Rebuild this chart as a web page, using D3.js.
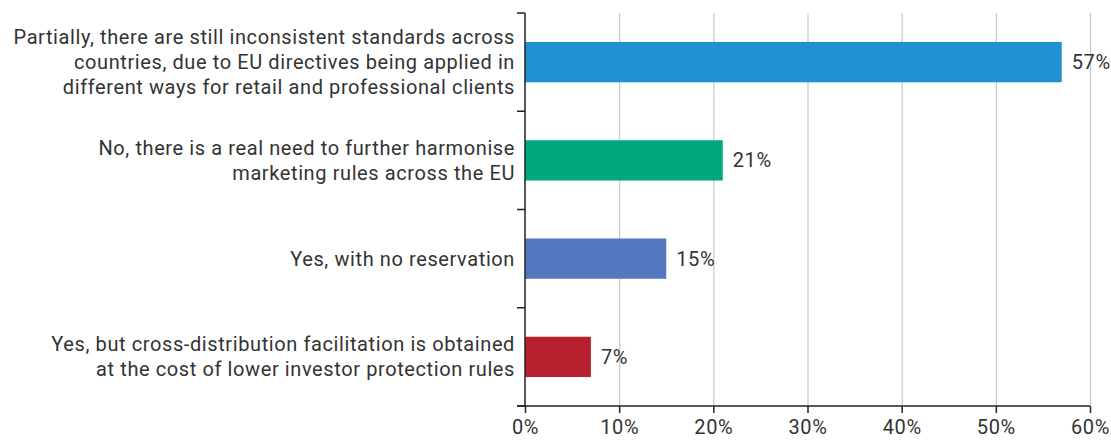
<!DOCTYPE html>
<html>
<head>
<meta charset="utf-8">
<script src="https://cdn.jsdelivr.net/npm/d3@7"></script>
<style>
  body { margin: 0; background: #fff; }
  svg text { font-family: Roboto, "Open Sans", sans-serif; fill: #333; letter-spacing: 0.6px; }
</style>
</head>
<body>
<svg id="chart"></svg>
<script>
// data
const categories = [
    ["Partially, there are still inconsistent standards across", "countries, due to EU directives being applied in", "different ways for retail and professional clients"],
    ["No, there is a real need to further harmonise", "marketing rules across the EU"],
    ["Yes, with no reservation"],
    ["Yes, but cross-distribution facilitation is obtained", "at the cost of lower investor protection rules"]
];
const values = [57, 21, 15, 7];
const barColors = ["#1f91d0", "#00a880", "#5577bf", "#b7202e"];
const xTicks = [0, 10, 20, 30, 40, 50, 60];

const w = 1111, h = 440;
let margin = ({ top: 13, right: 21, bottom: 34, left: 525 });
const fontSize = 20;

const svg = d3.select("#chart").attr("width", w).attr("height", h);

const keys = categories.map((c, i) => "c" + i);

const xScale = d3.scaleLinear()
    .domain([0, 60])
    .range([margin.left, w - margin.right]);

const yScale = d3.scaleBand()
    .domain(keys)
    .range([margin.top, h - margin.bottom])
    .paddingInner(0.59)
    .paddingOuter(0.295);

// gridlines
svg.append("g")
    .selectAll("line")
    .data(xTicks.slice(1))
    .join("line")
    .attr("x1", d => xScale(d) + 0.5)
    .attr("x2", d => xScale(d) + 0.5)
    .attr("y1", margin.top)
    .attr("y2", h - margin.bottom)
    .attr("stroke", "#c8c8c8")
    .attr("stroke-width", 1.2);

// bars
svg.append("g")
    .selectAll("rect")
    .data(values)
    .join("rect")
    .attr("x", xScale(0))
    .attr("y", (d, i) => yScale(keys[i]))
    .attr("width", d => xScale(d) - xScale(0))
    .attr("height", yScale.bandwidth())
    .attr("fill", (d, i) => barColors[i]);

// value labels
svg.append("g")
    .selectAll("text")
    .data(values)
    .join("text")
    .attr("x", d => xScale(d) + 10)
    .attr("y", (d, i) => yScale(keys[i]) + yScale.bandwidth() / 2)
    .attr("dy", "0.35em")
    .attr("font-size", fontSize)
    .text(d => d + "%");

// y axis: ticks at band boundaries
const step = yScale.step();
const bounds = d3.range(keys.length + 1).map(i => margin.top + i * step);
const yAxisG = svg.append("g");
yAxisG.append("line")
    .attr("x1", xScale(0)).attr("x2", xScale(0))
    .attr("y1", margin.top).attr("y2", h - margin.bottom)
    .attr("stroke", "#222").attr("stroke-width", 1.5);
yAxisG.selectAll("line.tk")
    .data(bounds)
    .join("line")
    .attr("class", "tk")
    .attr("x1", xScale(0) - 8).attr("x2", xScale(0))
    .attr("y1", d => d).attr("y2", d => d)
    .attr("stroke", "#222").attr("stroke-width", 1.5);

// category labels
const lineH = 25;
svg.append("g")
    .selectAll("text")
    .data(categories)
    .join("text")
    .attr("text-anchor", "end")
    .attr("font-size", fontSize)
    .attr("y", (d, i) => yScale(keys[i]) + yScale.bandwidth() / 2 - (d.length - 1) * lineH / 2)
    .each(function (d) {
        d3.select(this).selectAll("tspan")
            .data(d)
            .join("tspan")
            .attr("x", xScale(0) - 10)
            .attr("dy", (t, j) => j === 0 ? "0.35em" : lineH)
            .text(t => t);
    });

// x axis
const xAxis = g => g
    .attr("transform", `translate(0,${h - margin.bottom})`)
    .call(d3.axisBottom(xScale).tickValues(xTicks).tickFormat(d => d + "%").tickSize(7).tickSizeOuter(0))
    .call(g => g.select(".domain").remove())
    .call(g => g.selectAll(".tick line").attr("stroke", "#222").attr("stroke-width", 1.5))
    .call(g => g.selectAll(".tick text").attr("font-size", fontSize).attr("font-family", "Roboto, sans-serif").attr("fill", "#333").attr("dy", "0.9em"));

svg.append("g").call(xAxis);

svg.append("line")
    .attr("x1", xScale(0) - 8).attr("x2", xScale(60))
    .attr("y1", h - margin.bottom).attr("y2", h - margin.bottom)
    .attr("stroke", "#222").attr("stroke-width", 1.5);
</script>
</body>
</html>
